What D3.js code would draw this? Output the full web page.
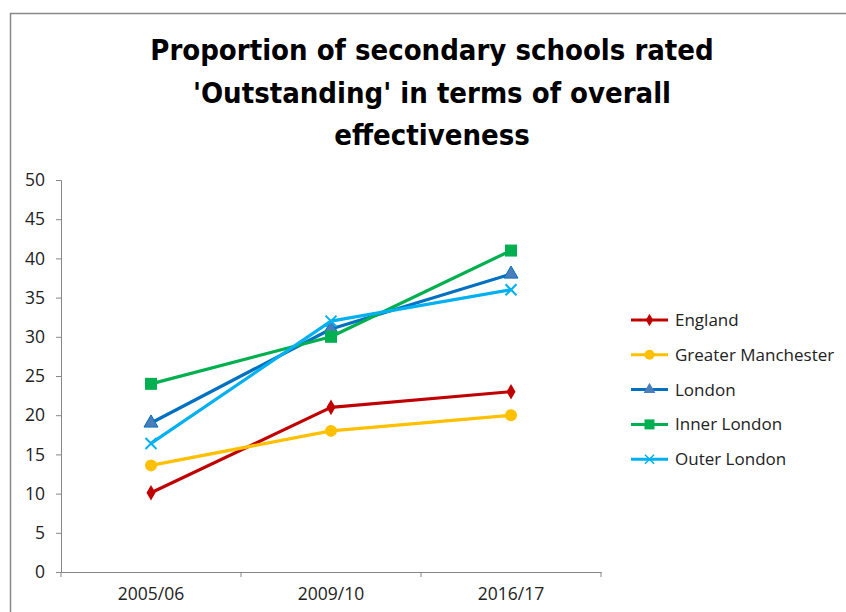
<!DOCTYPE html>
<html><head><meta charset="utf-8">
<script src="https://cdn.jsdelivr.net/npm/d3@7"></script>
<style>body{margin:0;background:#fff}svg{display:block}</style>
</head><body>
<svg id="c" width="846" height="612"></svg>
<script>
const categories = ["2005/06", "2009/10", "2016/17"];
const seriesNames = ["England", "Greater Manchester", "London", "Inner London", "Outer London"];
const england = [10.1, 21, 23];
const greaterManchester = [13.6, 18, 20];
const london = [19, 31, 38];
const innerLondon = [24, 30, 41];
const outerLondon = [16.4, 32, 36];
const yTicks = [0, 5, 10, 15, 20, 25, 30, 35, 40, 45, 50];
const titleLines = ["Proportion of secondary schools rated", "'Outstanding' in terms of overall", "effectiveness"];

const seriesValues = [england, greaterManchester, london, innerLondon, outerLondon];
const colors = ["#C00000", "#FFC000", "#0070C0", "#00B050", "#00B0F0"];
const markers = ["diamond", "circle", "triangle", "square", "cross"];

const svg = d3.select("#c");
svg.append("rect").attr("x", 10.5).attr("y", 13.5).attr("width", 900).attr("height", 700)
  .attr("fill", "none").attr("stroke", "#888").attr("stroke-width", 1.5);

const tfont = "'Liberation Sans Narrow', 'DejaVu Sans Condensed', Lato, sans-serif";
const title = svg.append("text").attr("text-anchor", "middle").attr("font-family", tfont)
  .attr("font-weight", "bold").attr("font-size", 29).attr("fill", "#000");
titleLines.forEach((l, i) => title.append("tspan").attr("x", 432).attr("y", 60 + i * 42.5).text(l));

const x = d3.scaleBand().domain(categories).range([61, 601]);
const y = d3.scaleLinear().domain([0, 50]).range([572, 180]);

const font = "'Open Sans', 'DejaVu Sans', sans-serif";
const yAxis = svg.append("g").attr("transform", "translate(61,0)")
  .call(d3.axisLeft(y).tickValues(yTicks).tickSize(5).tickPadding(11));
const xAxis = svg.append("g").attr("transform", "translate(0,572)")
  .call(d3.axisBottom(x).tickSize(0).tickPadding(16));
[yAxis, xAxis].forEach(a => {
  a.attr("font-size", null);
  a.selectAll("path.domain").attr("stroke", "#868686");
  a.selectAll("line").attr("stroke", "#868686");
  a.selectAll("text").attr("font-family", font).style("font-size", "17.5px").attr("fill", "#222");
});
// category boundary ticks
svg.append("g").selectAll("line").data([61, 241, 421, 601]).join("line")
  .attr("x1", d => d).attr("x2", d => d).attr("y1", 572).attr("y2", 577).attr("stroke", "#868686");

function marker(sel, type, color) {
  if (type === "diamond") sel.append("path").attr("d", d3.symbol(d3.symbolDiamond, 70)()).attr("fill", color);
  else if (type === "circle") sel.append("circle").attr("r", 6).attr("fill", color);
  else if (type === "triangle") sel.append("path").attr("d", d3.symbol(d3.symbolTriangle, 85)()).attr("fill", "#4A7EBB").attr("stroke", color).attr("stroke-width", 1);
  else if (type === "square") sel.append("rect").attr("x", -6).attr("y", -6).attr("width", 12).attr("height", 12).attr("fill", color);
  else if (type === "cross") sel.append("path").attr("d", "M-5.5,-5.5L5.5,5.5M-5.5,5.5L5.5,-5.5").attr("stroke", color).attr("stroke-width", 2);
}

const line = d3.line().x((d, i) => x(categories[i]) + x.bandwidth() / 2).y(d => y(d));
seriesValues.forEach((vals, s) => {
  const g = svg.append("g");
  g.append("path").attr("d", line(vals)).attr("fill", "none").attr("stroke", colors[s])
    .attr("stroke-width", 3.2).attr("stroke-linejoin", "round");
  vals.forEach((v, i) => {
    const m = g.append("g").attr("transform", `translate(${x(categories[i]) + x.bandwidth() / 2},${y(v)})`);
    marker(m, markers[s], colors[s]);
  });
});

// legend
const lg = svg.append("g");
seriesNames.forEach((n, s) => {
  const yy = 320 + s * 34.8;
  lg.append("line").attr("x1", 631).attr("x2", 668).attr("y1", yy).attr("y2", yy)
    .attr("stroke", colors[s]).attr("stroke-width", 3);
  const m = lg.append("g").attr("transform", `translate(649.5,${yy})`);
  if (markers[s] === "diamond") m.append("path").attr("d", d3.symbol(d3.symbolDiamond, 45)()).attr("fill", colors[s]);
  else if (markers[s] === "circle") m.append("circle").attr("r", 5).attr("fill", colors[s]);
  else if (markers[s] === "triangle") m.append("path").attr("d", d3.symbol(d3.symbolTriangle, 60)()).attr("fill", "#4A7EBB");
  else if (markers[s] === "square") m.append("rect").attr("x", -5).attr("y", -5).attr("width", 10).attr("height", 10).attr("fill", colors[s]);
  else m.append("path").attr("d", "M-4.5,-4.5L4.5,4.5M-4.5,4.5L4.5,-4.5").attr("stroke", colors[s]).attr("stroke-width", 1.5);
  lg.append("text").attr("x", 675).attr("y", yy).attr("dy", "0.35em").attr("font-family", font)
    .style("font-size", "17px").attr("fill", "#222").text(n);
});
</script>
</body></html>
